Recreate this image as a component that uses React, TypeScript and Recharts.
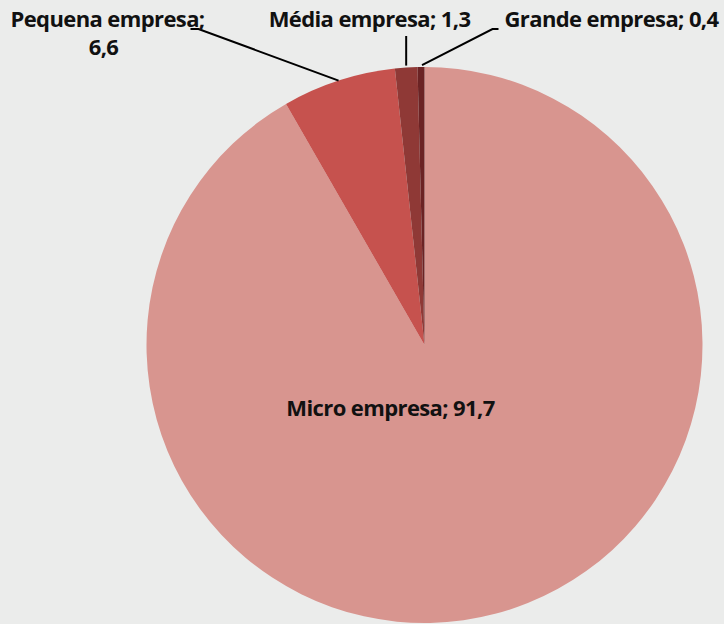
import React from 'react';
import { PieChart, Pie, Cell } from 'recharts';

// porte das empresas (%)
const categories = ['Micro empresa', 'Pequena empresa', 'Média empresa', 'Grande empresa'];
const values = [91.7, 6.6, 1.3, 0.4];
const colors = ['#d8958f', '#c6524e', '#8f3936', '#6b2324'];

const data = categories.map((name, i) => ({ name, value: values[i] }));

const RAD = Math.PI / 180;
const FONT = '"Open Sans", Roboto, "Noto Sans", sans-serif';

const fmt = (v: number) => v.toFixed(1).replace('.', ',');

// label placement, relative to the pie centre
const renderLabel = (props: any) => {
  const { cx, cy, midAngle, outerRadius, index, name, value } = props;
  const ex = cx + outerRadius * Math.cos(-midAngle * RAD);
  const ey = cy + outerRadius * Math.sin(-midAngle * RAD);
  const textProps = {
    fontFamily: FONT,
    fontWeight: 700,
    fontSize: 22,
    letterSpacing: -0.6,
    fill: '#111',
    textAnchor: 'middle' as const,
  };
  if (index === 0) {
    return (
      <text key="l0" x={cx - 34} y={cy + 71} {...textProps}>
        {`${name}; ${fmt(value)}`}
      </text>
    );
  }
  if (index === 1) {
    return (
      <g key="l1">
        <polyline
          points={`${cx - 234},${cy - 316} ${cx - 226},${cy - 316} ${ex},${ey}`}
          fill="none"
          stroke="#000"
          strokeWidth={2}
        />
        <text x={cx - 317} y={cy - 318} {...textProps}>{`${name};`}</text>
        <text x={cx - 321} y={cy - 290} {...textProps}>{fmt(value)}</text>
      </g>
    );
  }
  if (index === 2) {
    return (
      <g key="l2">
        <line x1={ex} y1={ey - 2} x2={ex} y2={cy - 309} stroke="#000" strokeWidth={2} />
        <text x={cx - 55} y={cy - 318} {...textProps}>{`${name}; ${fmt(value)}`}</text>
      </g>
    );
  }
  return (
    <g key="l3">
      <polyline
        points={`${ex + 1},${ey - 2} ${cx + 68},${cy - 316} ${cx + 74},${cy - 316}`}
        fill="none"
        stroke="#000"
        strokeWidth={2}
      />
      <text x={cx + 187} y={cy - 318} {...textProps}>{`${name}; ${fmt(value)}`}</text>
    </g>
  );
};

export default function App() {
  return (
    <div
      style={{
        position: 'absolute',
        left: 0,
        top: 0,
        width: 724,
        height: 624,
        background: '#ebeceb',
        overflow: 'hidden',
      }}
    >
      <PieChart width={724} height={624} margin={{ top: 0, right: 0, bottom: 0, left: 0 }}>
        <Pie
          data={data}
          dataKey="value"
          nameKey="name"
          cx={424.5}
          cy={345}
          outerRadius={278}
          startAngle={90}
          endAngle={-270}
          stroke="none"
          label={renderLabel}
          labelLine={false}
          isAnimationActive={false}
        >
          {data.map((d, i) => (
            <Cell key={d.name} fill={colors[i]} />
          ))}
        </Pie>
      </PieChart>
    </div>
  );
}
